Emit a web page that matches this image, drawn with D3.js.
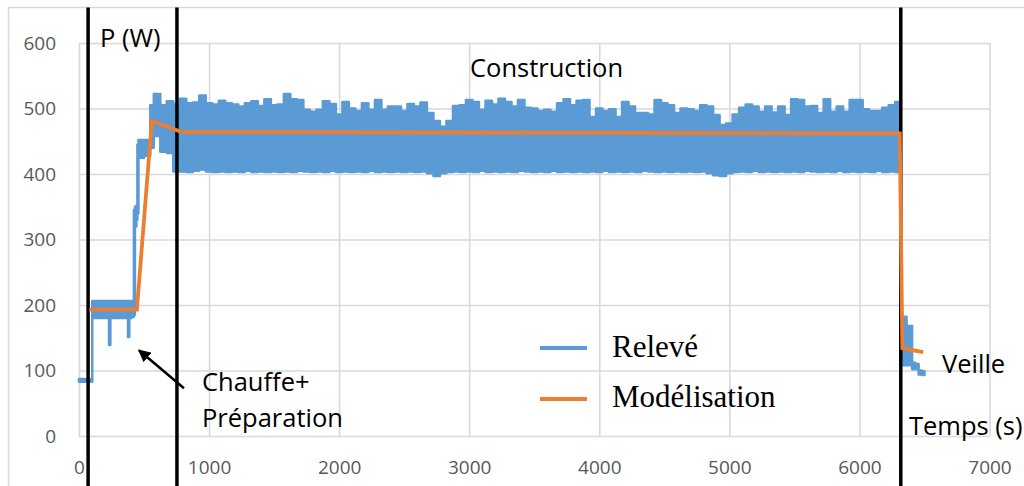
<!DOCTYPE html>
<html>
<head>
<meta charset="utf-8">
<script src="https://cdn.jsdelivr.net/npm/d3@7"></script>
<style>
  html, body { margin: 0; padding: 0; background: #fff; }
  svg { display: block; }
</style>
</head>
<body>
<svg id="chart" width="1024" height="486"></svg>
<script>
// ---------- DATA ----------
const xTicks = [0, 1000, 2000, 3000, 4000, 5000, 6000, 7000];
const yTicks = [0, 100, 200, 300, 400, 500, 600];

// Relevé (measured power) – early phase: time (s), lower / upper envelope (W)
const relEarlyTime = [0, 100, 104, 230, 232, 240, 242, 376, 378, 386, 388, 420, 424, 436, 446, 452, 462, 540, 546];
const relEarlyHigh = [87, 87, 206, 206, 206, 206, 206, 206, 206, 206, 206, 206, 345, 350, 352, 445, 452, 452, 452];
const relEarlyLow  = [83, 83, 180, 180, 139, 139, 180, 180, 151, 151, 180, 182, 185, 320, 330, 340, 425, 428, 428];

// Relevé – construction phase, sampled every 50 s from 550 s to 6300 s
const relBuildTime = [
  550, 600, 650, 700, 750, 800, 850, 900, 950, 1000,
  1050, 1100, 1150, 1200, 1250, 1300, 1350, 1400, 1450, 1500,
  1550, 1600, 1650, 1700, 1750, 1800, 1850, 1900, 1950, 2000,
  2050, 2100, 2150, 2200, 2250, 2300, 2350, 2400, 2450, 2500,
  2550, 2600, 2650, 2700, 2750, 2800, 2850, 2900, 2950, 3000,
  3050, 3100, 3150, 3200, 3250, 3300, 3350, 3400, 3450, 3500,
  3550, 3600, 3650, 3700, 3750, 3800, 3850, 3900, 3950, 4000,
  4050, 4100, 4150, 4200, 4250, 4300, 4350, 4400, 4450, 4500,
  4550, 4600, 4650, 4700, 4750, 4800, 4850, 4900, 4950, 5000,
  5050, 5100, 5150, 5200, 5250, 5300, 5350, 5400, 5450, 5500,
  5550, 5600, 5650, 5700, 5750, 5800, 5850, 5900, 5950, 6000,
  6050, 6100, 6150, 6200, 6250, 6300
];
const relBuildHigh = [
  505, 522, 505, 511, 506, 515, 508, 509, 520, 508,
  506, 512, 508, 506, 503, 508, 511, 504, 514, 505,
  506, 522, 514, 513, 498, 495, 498, 511, 507, 491,
  510, 500, 496, 508, 498, 513, 498, 503, 503, 496,
  507, 503, 509, 493, 481, 472, 481, 504, 505, 513,
  510, 498, 512, 506, 515, 510, 503, 513, 501, 500,
  496, 498, 495, 508, 514, 505, 512, 513, 487, 500,
  496, 499, 487, 510, 503, 493, 493, 491, 513, 508,
  505, 493, 500, 499, 496, 505, 503, 490, 475, 477,
  491, 501, 506, 503, 495, 503, 494, 503, 490, 514,
  513, 503, 504, 493, 514, 495, 503, 495, 513, 513,
  499, 496, 496, 501, 505, 510
];
const relBuildLow = [
  440, 458, 434, 432, 404, 404, 403, 405, 407, 404,
  403, 404, 403, 404, 403, 405, 403, 404, 403, 404,
  403, 404, 403, 405, 404, 403, 404, 403, 405, 403,
  404, 403, 404, 403, 405, 403, 404, 403, 404, 403,
  404, 403, 404, 401, 397, 401, 403, 404, 403, 404,
  403, 405, 403, 404, 403, 404, 403, 405, 404, 403,
  404, 403, 405, 403, 404, 403, 404, 403, 404, 403,
  405, 403, 404, 403, 404, 403, 405, 404, 403, 404,
  403, 404, 403, 404, 403, 404, 401, 398, 397, 401,
  403, 404, 403, 405, 403, 404, 403, 404, 403, 404,
  403, 405, 404, 403, 404, 403, 405, 403, 404, 403,
  404, 403, 405, 403, 404, 403
];

// Relevé – standby (veille) phase
const relIdleTime = [6310, 6325, 6400, 6410, 6450, 6460, 6500];
const relIdleHigh = [505, 182, 168, 112, 110, 100, 99];
const relIdleLow  = [403, 108, 108, 102, 102, 94, 93];

// Modélisation (model)
const modTime  = [80, 445, 560, 790, 6310, 6330, 6490];
const modValue = [193, 193, 481, 464, 462, 134, 128];

// Phase boundaries (s)
const phaseBounds = [70, 753, 6318];

// Arrow annotation (time, power): tail -> tip
const arrowTail = [807, 73];
const arrowTip  = [461, 131];

// ---------- BUILD ----------
const releve = [];
[[relEarlyTime, relEarlyLow, relEarlyHigh],
 [relBuildTime, relBuildLow, relBuildHigh],
 [relIdleTime, relIdleLow, relIdleHigh]].forEach(([t, lo, hi]) => {
  t.forEach((d, i) => releve.push({t: d, lo: lo[i], hi: hi[i]}));
});
const model = modTime.map((t, i) => ({t, v: modValue[i]}));

const svg = d3.select("#chart");
const x = d3.scaleLinear().domain([0, 7000]).range([79, 989.5]);
const y = d3.scaleLinear().domain([0, 600]).range([436, 43]);

const BLUE = "#5B9BD5", ORANGE = "#ED7D31", GRID = "#d9d9d9";
const SANS = "'Open Sans', 'Noto Sans', sans-serif";

// outer frame
svg.append("rect").attr("x", 8.5).attr("y", 7.5).attr("width", 1030).attr("height", 500)
  .attr("fill", "none").attr("stroke", GRID).attr("stroke-width", 1.5);

// axes with gridlines
const gy = svg.append("g").attr("transform", `translate(${x(0)},0)`)
  .call(d3.axisLeft(y).tickValues(yTicks).tickSize(-(x(7000) - x(0))).tickPadding(23).tickFormat(d3.format("d")));
const gx = svg.append("g").attr("transform", `translate(0,${y(0)})`)
  .call(d3.axisBottom(x).tickValues(xTicks).tickSize(-(y(0) - y(600))).tickPadding(25).tickFormat(d3.format("d")));
[gy, gx].forEach(g => {
  g.select(".domain").remove();
  g.selectAll(".tick line").attr("stroke", GRID).attr("stroke-width", 1.6);
  g.selectAll(".tick text").attr("fill", "#595959").style("font-family", SANS).style("font-size", "19px");
});

// Relevé band
const area = d3.area().x(d => x(d.t)).y0(d => y(d.lo)).y1(d => y(d.hi)).curve(d3.curveStep);
svg.append("path").datum(releve).attr("d", area)
  .attr("fill", BLUE).attr("stroke", BLUE).attr("stroke-width", 2.5).attr("stroke-linejoin", "round");

// phase boundaries
svg.selectAll(".phase").data(phaseBounds).enter().append("line")
  .attr("x1", d => x(d)).attr("x2", d => x(d)).attr("y1", 7.5).attr("y2", 490)
  .attr("stroke", "#000").attr("stroke-width", 3.5);

// Modélisation line
const line = d3.line().x(d => x(d.t)).y(d => y(d.v));
svg.append("path").datum(model).attr("d", line)
  .attr("fill", "none").attr("stroke", ORANGE).attr("stroke-width", 3.8).attr("stroke-linejoin", "miter");

// arrow
const defs = svg.append("defs");
defs.append("marker").attr("id", "arr").attr("viewBox", "0 0 10 10").attr("refX", 9).attr("refY", 5)
  .attr("markerWidth", 5).attr("markerHeight", 5).attr("orient", "auto")
  .append("path").attr("d", "M0,0 L10,5 L0,10 z").attr("fill", "#000");
svg.append("line")
  .attr("x1", x(arrowTail[0])).attr("y1", y(arrowTail[1]))
  .attr("x2", x(arrowTip[0])).attr("y2", y(arrowTip[1]))
  .attr("stroke", "#000").attr("stroke-width", 2.5).attr("marker-end", "url(#arr)");

// annotations
const ann = [
  {text: "P (W)", x: 100, y: 47},
  {text: "Construction", x: 470, y: 77},
  {text: "Chauffe+", x: 202, y: 391},
  {text: "Préparation", x: 202, y: 427},
  {text: "Veille", x: 942, y: 373},
  {text: "Temps (s)", x: 909, y: 435}
];
svg.selectAll(".ann").data(ann).enter().append("text")
  .attr("x", d => d.x).attr("y", d => d.y).text(d => d.text)
  .style("font-family", SANS).style("font-size", "25.5px").attr("fill", "#000");

// legend
const legend = [
  {name: "Relevé", color: BLUE, ly: 348, ty: 357},
  {name: "Modélisation", color: ORANGE, ly: 399, ty: 407}
];
const lg = svg.selectAll(".leg").data(legend).enter().append("g");
lg.append("line").attr("x1", 540).attr("x2", 587).attr("y1", d => d.ly).attr("y2", d => d.ly)
  .attr("stroke", d => d.color).attr("stroke-width", 4);
lg.append("text").attr("x", 612).attr("y", d => d.ty).text(d => d.name)
  .style("font-family", "'Liberation Serif', 'Times New Roman', serif").style("font-size", "31px").attr("fill", "#000");
</script>
</body>
</html>
